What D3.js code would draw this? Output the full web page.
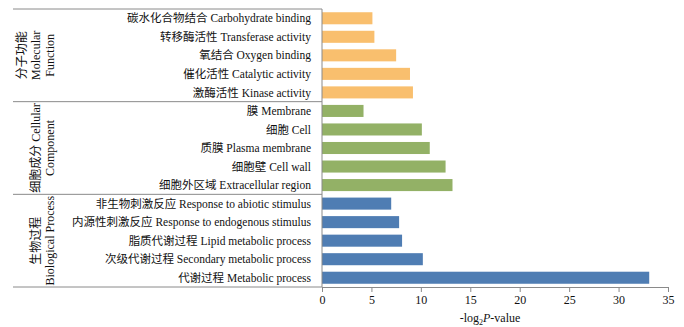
<!DOCTYPE html>
<html><head><meta charset="utf-8">
<script src="https://cdn.jsdelivr.net/npm/d3@7"></script>
<style>body{margin:0;background:#fff}</style>
</head><body>
<svg id="c" width="684" height="327"></svg>
<script>
const categories = [
  "碳水化合物结合 Carbohydrate binding",
  "转移酶活性 Transferase activity",
  "氧结合 Oxygen binding",
  "催化活性 Catalytic activity",
  "激酶活性 Kinase activity",
  "膜 Membrane",
  "细胞 Cell",
  "质膜 Plasma membrane",
  "细胞壁 Cell wall",
  "细胞外区域 Extracellular region",
  "非生物刺激反应 Response to abiotic stimulus",
  "内源性刺激反应 Response to endogenous stimulus",
  "脂质代谢过程 Lipid metabolic process",
  "次级代谢过程 Secondary metabolic process",
  "代谢过程 Metabolic process"
];
const values = [5.1, 5.3, 7.5, 8.9, 9.2, 4.2, 10.1, 10.9, 12.5, 13.2, 7.0, 7.8, 8.1, 10.2, 33.1];
const groupOf = [0,0,0,0,0,1,1,1,1,1,2,2,2,2,2];
const groupLabels = [["分子功能","Molecular","Function"],["细胞成分 Cellular","Component"],["生物过程","Biological Process"]];
const groupColors = ["#F9BF6E","#93B166","#4F7DB3"];
const xTicks = [0,5,10,15,20,25,30,35];

const svg = d3.select("#c");
const font = "'Liberation Serif','Noto Sans CJK SC',serif";
const mLeft = 13, axisX = 322, mTop = 9, mBottom = 287;
const x = d3.scaleLinear().domain([0,35]).range([axisX, 668]);
const y = d3.scaleBand().domain(categories).range([mTop, mBottom]).paddingInner(0.35).paddingOuter(0.175);

const lineColor = "#8a8a8a";

svg.selectAll("rect.bar").data(categories).enter().append("rect")
  .attr("x", x(0)).attr("y", d => y(d))
  .attr("width", (d,i) => x(values[i]) - x(0))
  .attr("height", y.bandwidth())
  .attr("fill", (d,i) => groupColors[groupOf[i]]);

svg.selectAll("text.cat").data(categories).enter().append("text")
  .attr("x", 311).attr("y", d => y(d) + y.bandwidth()/2)
  .attr("dy", "0.36em").attr("text-anchor", "end")
  .style("font-family", font).style("font-size", "11.5px").attr("fill", "#111")
  .text(d => d);

const ys = [mTop, y(categories[5]) - y.step()*0.175, y(categories[10]) - y.step()*0.175, mBottom];
ys.forEach(v => {
  svg.append("line").attr("x1", mLeft).attr("x2", axisX).attr("y1", v).attr("y2", v)
    .attr("stroke", lineColor).attr("stroke-width", 1);
});
svg.append("line").attr("x1", axisX).attr("x2", axisX).attr("y1", mTop).attr("y2", mBottom)
  .attr("stroke", lineColor).attr("stroke-width", 1);

groupLabels.forEach((lines, g) => {
  const cy = (ys[g] + ys[g+1]) / 2;
  const n = lines.length;
  lines.forEach((t, k) => {
    const cx = 50 - (n - 1 - k) * 14;
    svg.append("text")
      .attr("transform", `translate(${cx},${cy}) rotate(-90)`)
      .attr("text-anchor", "middle").attr("dy", "0.36em")
      .style("font-family", font).style("font-size", "12px").attr("fill", "#111")
      .text(t);
  });
});

const xAxis = d3.axisBottom(x).tickValues(xTicks).tickSize(5).tickSizeOuter(0);
const gx = svg.append("g").attr("transform", `translate(0,${mBottom})`).call(xAxis);
gx.select(".domain").attr("stroke", lineColor);
gx.selectAll(".tick line").attr("stroke", lineColor);
gx.selectAll(".tick text").attr("y", 8).style("font-family", font).style("font-size", "12px").attr("fill", "#111");

const title = svg.append("text").attr("x", 490).attr("y", 322).attr("text-anchor", "middle")
  .style("font-family", font).style("font-size", "12px").attr("fill", "#111");
title.append("tspan").text("-log");
title.append("tspan").attr("dy", 3).style("font-size", "8px").text("2");
title.append("tspan").attr("dy", -3).style("font-style", "italic").text("P");
title.append("tspan").text("-value");
</script>
</body></html>
